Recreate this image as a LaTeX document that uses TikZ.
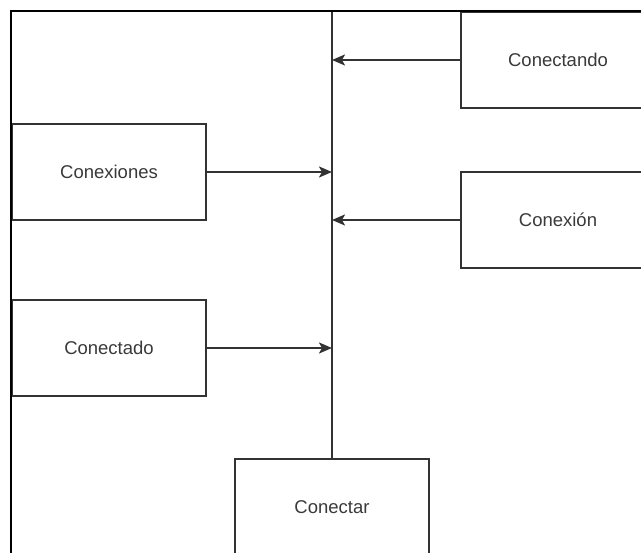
\documentclass[tikz,border=0pt]{standalone}
\usepackage{fontspec}
\setmainfont{Liberation Sans}
\usetikzlibrary{arrows.meta}
\definecolor{linegray}{HTML}{333333}
\definecolor{textgray}{HTML}{3A3A3A}
\tikzset{
  box/.style={draw=linegray, line width=2pt, fill=white, minimum width=194pt,
    minimum height=96pt, inner sep=0pt, text=textgray, font=\fontsize{18.5}{21}\selectfont},
  link/.style={draw=linegray, line width=2pt, -{Stealth[length=13pt,width=11pt,inset=3pt]}},
  bus/.style={draw=linegray, line width=2pt},
  frame/.style={draw=black, line width=2pt}
}
\begin{document}
\begin{tikzpicture}[x=1pt,y=-1pt]
  \useasboundingbox (0,0) rectangle (641,553);
  \clip (0,0) rectangle (641,553);
  \fill[white] (0,0) rectangle (641,553);
  % outer frame, extending past the page edges
  \draw[frame] (11,700) -- (11,11) -- (700,11);
  % boxes
  \node[box] (conectando) at (558,60) {Conectando};
  \node[box] (conexion)   at (558,220) {Conexión};
  \node[box] (conexiones) at (109,172) {Conexiones};
  \node[box] (conectado)  at (109,348) {Conectado};
  \node[box] (conectar)   at (332,507) {Conectar};
  % central bus
  \coordinate (bustop) at (332,11);
  \draw[bus] (bustop) -- (conectar.north);
  % connection points on the bus
  \coordinate (p1) at (332,60);
  \coordinate (p2) at (332,172);
  \coordinate (p3) at (332,220);
  \coordinate (p4) at (332,348);
  \draw[link] (conectando.west) -- (p1);
  \draw[link] (conexiones.east) -- (p2);
  \draw[link] (conexion.west) -- (p3);
  \draw[link] (conectado.east) -- (p4);
  % redraw frame edge over the box borders
  \draw[frame] (11,700) -- (11,11) -- (700,11);
\end{tikzpicture}
\end{document}
